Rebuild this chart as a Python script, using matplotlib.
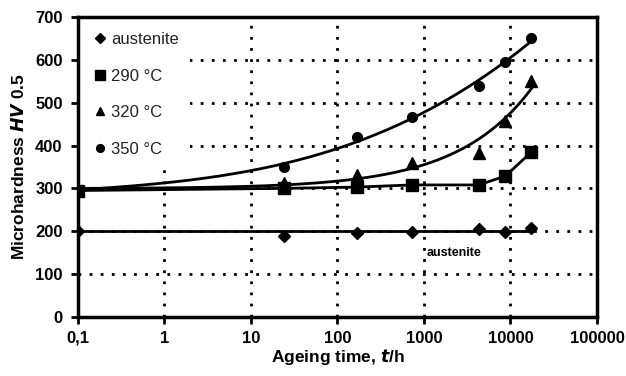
import numpy as np
import matplotlib
matplotlib.use("Agg")
import matplotlib.pyplot as plt
from matplotlib.ticker import FixedLocator, NullLocator
from matplotlib.patches import Rectangle

plt.rcParams['font.family'] = ['Liberation Sans', 'DejaVu Sans']
plt.rcParams['font.weight'] = 'bold'

time_h = [0.1, 24, 168, 720, 4320, 8760, 17500]
austenite = [200, 190, 197, 198, 205, 198, 208]
t290 = [295, 300, 303, 308, 308, 329, 385]
t320 = [297, 312, 331, 359, 383, 457, 551]
t350 = [297, 350, 420, 467, 539, 595, 651]

xticks = [0.1, 1, 10, 100, 1000, 10000, 100000]
xticklabels = ["0,1", "1", "10", "100", "1000", "10000", "100000"]
yticks = [0, 100, 200, 300, 400, 500, 600, 700]

fig = plt.figure(figsize=(6.26, 3.76), dpi=100)
ax = fig.add_axes([0.1246, 0.157, 0.829, 0.798])
ax.set_xscale('log')
ax.set_xlim(0.1, 100000)
ax.set_ylim(0, 700)
ax.set_axisbelow(True)

x = np.array(time_h, dtype=float)
lx = np.log10(x)
xs = np.logspace(-1, np.log10(17500), 400)
lxs = np.log10(xs)

# trend lines
ax.plot(xs, np.full_like(xs, austenite[0]), color='black', lw=2)
ax.plot(x, t290, color='black', lw=2)
A = np.column_stack([np.ones_like(x), np.sqrt(x)])
c320, *_ = np.linalg.lstsq(A, np.array(t320, float), rcond=None)
ax.plot(xs, c320[0] + c320[1] * np.sqrt(xs), color='black', lw=2)
c350 = np.polyfit(lx, t350, 3)
ax.plot(xs, np.polyval(c350, lxs), color='black', lw=2)

ax.plot(x, austenite, 'D', color='black', ms=6, ls='none', label='austenite')
ax.plot(x, t290, 's', color='black', ms=9, ls='none', label='290 °C')
ax.plot(x, t320, '^', color='black', ms=8, ls='none', label='320 °C')
ax.plot(x, t350, 'o', color='black', ms=7, ls='none', label='350 °C')

ax.grid(True, which='major', color='black', linestyle=(0, (1, 3)), linewidth=2)
ax.xaxis.set_major_locator(FixedLocator(xticks))
ax.xaxis.set_minor_locator(NullLocator())
ax.set_xticks(xticks)
ax.set_xticklabels(xticklabels)
ax.set_yticks(yticks)
ax.tick_params(axis='both', labelsize=12, width=2, length=5, direction='out')
ax.tick_params(axis='x', pad=5)
ax.tick_params(axis='y', pad=6)
for lab in ax.get_xticklabels() + ax.get_yticklabels():
    lab.set_fontweight('bold')
for s in ax.spines.values():
    s.set_linewidth(2.5)

ax.set_xlabel(r"Ageing time, $\mathbf{\mathit{t}}$/h", fontsize=12.5, fontweight='bold',
              labelpad=1)
ax.set_ylabel(r"Microhardness $\mathbf{\mathit{HV}}$ 0.5", fontsize=12.5, fontweight='bold',
              labelpad=6)

# white area behind legend (hides grid there)
ax.add_patch(Rectangle((0.004, 0.50), 0.212, 0.49, transform=ax.transAxes,
                       facecolor='white', edgecolor='none', zorder=1))

leg = ax.legend(loc='upper left', frameon=False, fontsize=12, handletextpad=0.3,
                handlelength=0.8, labelspacing=1.3, borderaxespad=0.3,
                borderpad=0.6, markerscale=0.8)
leg.set_zorder(5)
for t in leg.get_texts():
    t.set_fontweight('normal')
    t.set_color('#222222')

ax.text(2200, 150, "austenite", fontsize=9, fontweight='bold', ha='center', va='center')

fig.savefig("out.png", dpi=100)
